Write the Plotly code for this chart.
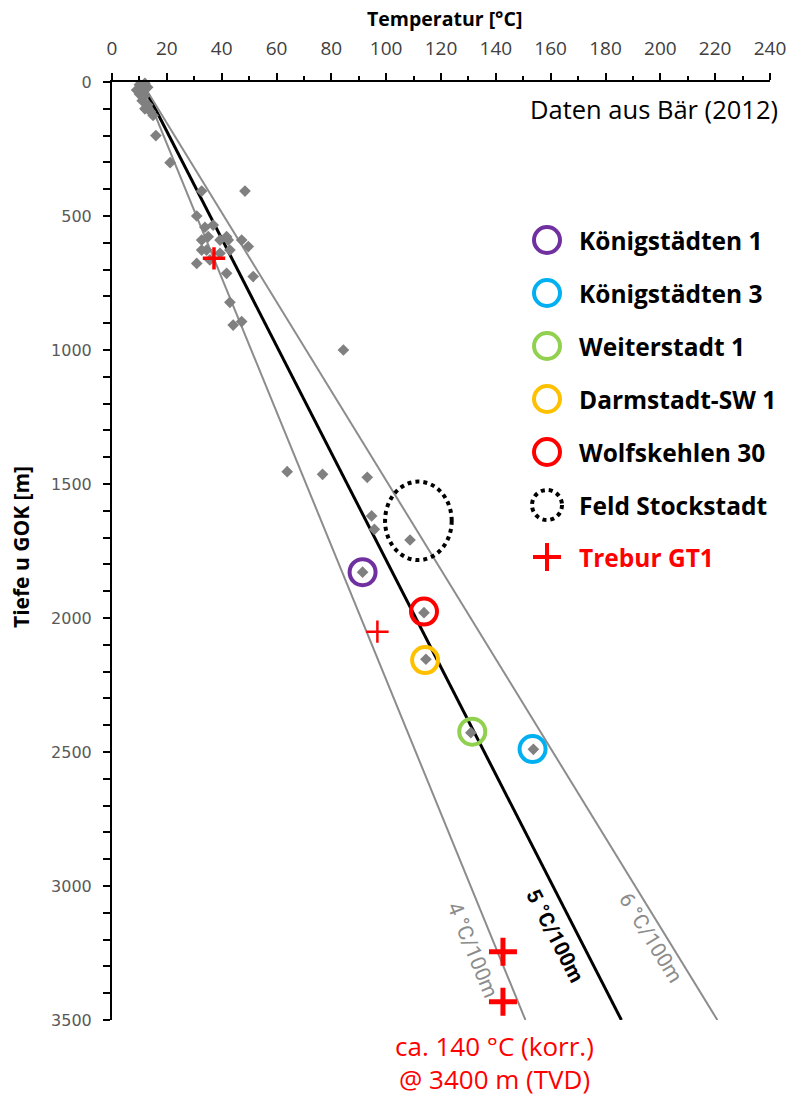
import math
import plotly.graph_objects as go

# ---------------- data ----------------
x_tick_values = list(range(0, 241, 20))
y_tick_values = list(range(0, 3501, 500))

# Temperature data (Bär 2012): temperature [°C], depth [m]
baer_temp = [10, 12, 9, 11, 13, 10, 12, 11, 13, 12, 14, 15, 16, 21.2,
             32.7, 48.5, 30.9, 33.9, 36.9, 35.1, 39.4, 32.7, 41.8, 42.4, 43.0,
             47.3, 49.7, 34.5, 32.7, 39.4, 35.7, 30.9, 41.8, 51.5, 43.0, 44.2, 47.3,
             84.4, 63.9, 76.8, 93.1, 94.7, 95.7, 108.7,
             91.4, 113.8, 114.5, 130.9, 153.7]
baer_depth = [10, 5, 30, 25, 20, 45, 50, 70, 85, 100, 110, 125, 200, 301,
              407, 407, 500, 542, 534, 577, 590, 590, 577, 590, 627,
              590, 614, 627, 627, 639, 664, 677, 714, 726, 822, 907, 894,
              1000, 1454, 1464, 1475, 1619, 1669, 1709,
              1829, 1980, 2154, 2428, 2490]

well_names = ["Königstädten 1", "Königstädten 3", "Weiterstadt 1", "Darmstadt-SW 1", "Wolfskehlen 30"]
well_temp = [91.4, 153.4, 131.4, 114.2, 113.8]
well_depth = [1829, 2489, 2424, 2157, 1976]

stockstadt_name = "Feld Stockstadt"
stockstadt_temp_range = [99.6, 123.9]
stockstadt_depth_range = [1491, 1784]

trebur_name = "Trebur GT1"
trebur_temp = [37.2, 96.8, 142.6, 142.6]
trebur_depth = [658, 2051, 3245, 3432]

surface_temp = 10.8
gradients = [4, 5, 6]          # °C / 100 m
gradient_labels = ["4 °C/100m", "5 °C/100m", "6 °C/100m"]
max_depth = 3500

source_text = "Daten aus Bär (2012)"
note_lines = ["ca. 140 °C (korr.)", "@ 3400 m (TVD)"]

# ---------------- styles ----------------
well_colors = ["#7030A0", "#00B0F0", "#92D050", "#FFC000", "#FF0000"]
RED = "#FF0000"
W, H = 799, 1097
PL, PT, PR, PB = 112, 82, 770, 1020   # plot area in window pixels
L, T = PL, PT
PW, PH = PR - PL, PB - PT
R, B = W - L - PW, H - T - PH
FONT = "Open Sans"


def px_x(p):
    return (p - PL) / PW


def px_y(p):
    return 1 - (p - PT) / PH


fig = go.Figure()

# gradient lines
line_styles = [dict(color="#8C8C8C", width=2), dict(color="black", width=3), dict(color="#8C8C8C", width=2)]
for g, st in zip(gradients, line_styles):
    fig.add_trace(go.Scatter(x=[surface_temp, surface_temp + g * max_depth / 100], y=[0, max_depth],
                             mode="lines", line=st, hoverinfo="skip", cliponaxis=False))

# data points
fig.add_trace(go.Scatter(x=baer_temp, y=baer_depth, mode="markers", cliponaxis=False,
                         marker=dict(symbol="diamond", size=9, color="#808080")))

# wells
for name, tx, dy, c in zip(well_names, well_temp, well_depth, well_colors):
    fig.add_trace(go.Scatter(x=[tx], y=[dy], mode="markers", name=name,
                             marker=dict(symbol="circle-open", size=26, color=c, line=dict(width=4, color=c))))

# Trebur crosses
cross_sizes = [16, 16, 20, 20]
cross_widths = [3.5, 2.5, 5, 5]
for tx, dy, s, w in zip(trebur_temp, trebur_depth, cross_sizes, cross_widths):
    fig.add_trace(go.Scatter(x=[tx], y=[dy], mode="markers", cliponaxis=False,
                             marker=dict(symbol="cross-thin", size=s, color=RED, line=dict(width=w, color=RED))))

# Stockstadt ellipse
fig.add_shape(type="circle", xref="x", yref="y",
              x0=stockstadt_temp_range[0], x1=stockstadt_temp_range[1],
              y0=stockstadt_depth_range[0], y1=stockstadt_depth_range[1],
              line=dict(color="black", width=4, dash="dot"))

# gradient labels
label_depth = [3239, 3187, 3194]
label_temp = [131.5, 161.5, 196.5]
label_colors = ["#8C8C8C", "black", "#8C8C8C"]
for g, lab, lx, ly, col in zip(gradients, gradient_labels, label_temp, label_depth, label_colors):
    ang = math.degrees(math.atan((PH / max_depth * 100) / (PW / 240 * g)))
    txt = "<b>" + lab + "</b>" if g == 5 else lab
    fig.add_annotation(x=lx, y=ly, xref="x", yref="y", text=txt, showarrow=False,
                       textangle=ang, font=dict(color=col, size=21, family="Roboto"))

# ---------------- legend (manual) ----------------
leg_x_marker = px_x(547)
leg_x_text = px_x(577)
leg_rows = [240, 293, 346, 399, 452, 505, 557]
LEG_FONT = 24.5
for i, (name, c) in enumerate(zip(well_names, well_colors)):
    fig.add_trace(go.Scatter(x=[leg_x_marker], y=[px_y(leg_rows[i])], xaxis="x2", yaxis="y2",
                             mode="markers", cliponaxis=False,
                             marker=dict(symbol="circle-open", size=26, color=c, line=dict(width=4, color=c))))
    fig.add_annotation(x=leg_x_text, y=px_y(leg_rows[i]), xref="paper", yref="paper", xanchor="left",
                       yanchor="middle", showarrow=False, text="<b>" + name + "</b>",
                       font=dict(family=FONT, size=LEG_FONT, color="black"))
# stockstadt legend
r = 15
fig.add_shape(type="circle", xref="paper", yref="paper",
              x0=px_x(547 - r), x1=px_x(547 + r), y0=px_y(leg_rows[5] + r), y1=px_y(leg_rows[5] - r),
              line=dict(color="black", width=4, dash="dot"))
fig.add_annotation(x=leg_x_text, y=px_y(leg_rows[5]), xref="paper", yref="paper", xanchor="left",
                   yanchor="middle", showarrow=False, text="<b>" + stockstadt_name + "</b>",
                   font=dict(family=FONT, size=LEG_FONT, color="black"))
# trebur legend
fig.add_trace(go.Scatter(x=[leg_x_marker], y=[px_y(leg_rows[6])], xaxis="x2", yaxis="y2",
                         mode="markers", cliponaxis=False,
                         marker=dict(symbol="cross-thin", size=20, color=RED, line=dict(width=4, color=RED))))
fig.add_annotation(x=leg_x_text, y=px_y(leg_rows[6]), xref="paper", yref="paper", xanchor="left",
                   yanchor="middle", showarrow=False, text="<b>" + trebur_name + "</b>",
                   font=dict(family=FONT, size=LEG_FONT, color=RED))

# other texts
fig.add_annotation(x=px_x(780), y=px_y(109), xref="paper", yref="paper", xanchor="right", yanchor="middle",
                   showarrow=False, text=source_text, font=dict(family=FONT, size=25.5, color="black"))
for t_, yy in zip(note_lines, [1046, 1079]):
    fig.add_annotation(x=px_x(494), y=px_y(yy), xref="paper", yref="paper", xanchor="center", yanchor="middle",
                       showarrow=False, text=t_, font=dict(family=FONT, size=26, color=RED))
fig.add_annotation(x=px_x(445), y=px_y(18), xref="paper", yref="paper", xanchor="center", yanchor="middle",
                   showarrow=False, text="<b>Temperatur [°C]</b>", font=dict(family=FONT, size=19.5, color="black"))
fig.add_annotation(x=px_x(21), y=px_y(547), xref="paper", yref="paper", xanchor="center", yanchor="middle",
                   showarrow=False, text="<b>Tiefe u GOK [m]</b>", textangle=-90,
                   font=dict(family=FONT, size=21, color="black"))

fig.update_layout(
    width=W, height=H, margin=dict(l=L, r=R, t=T, b=B),
    plot_bgcolor="white", paper_bgcolor="white", showlegend=False,
    xaxis=dict(side="top", range=[0, 240], tickvals=x_tick_values, showgrid=False, zeroline=False,
               showline=True, linecolor="black", linewidth=2, ticks="outside", ticklen=7, tickwidth=2,
               tickcolor="black", ticklabelstandoff=10,
               minor=dict(dtick=10, ticks="outside", ticklen=4, tickwidth=2, tickcolor="black"),
               tickfont=dict(family=FONT, size=19, color="#404040")),
    yaxis=dict(range=[max_depth, 0], tickvals=y_tick_values, showgrid=False, zeroline=False,
               showline=True, linecolor="black", linewidth=2, ticks="outside", ticklen=7, tickwidth=2,
               tickcolor="black", ticklabelstandoff=8,
               minor=dict(dtick=100, ticks="outside", ticklen=7, tickwidth=2, tickcolor="black"),
               tickfont=dict(family="DejaVu Sans", size=16, color="#595959")),
    xaxis2=dict(overlaying="x", range=[0, 1], visible=False),
    yaxis2=dict(overlaying="y", range=[0, 1], visible=False),
)

fig.write_html("out.html", config={"displayModeBar": False},
               post_script="document.body.style.margin='0px';document.body.style.overflow='hidden';")
